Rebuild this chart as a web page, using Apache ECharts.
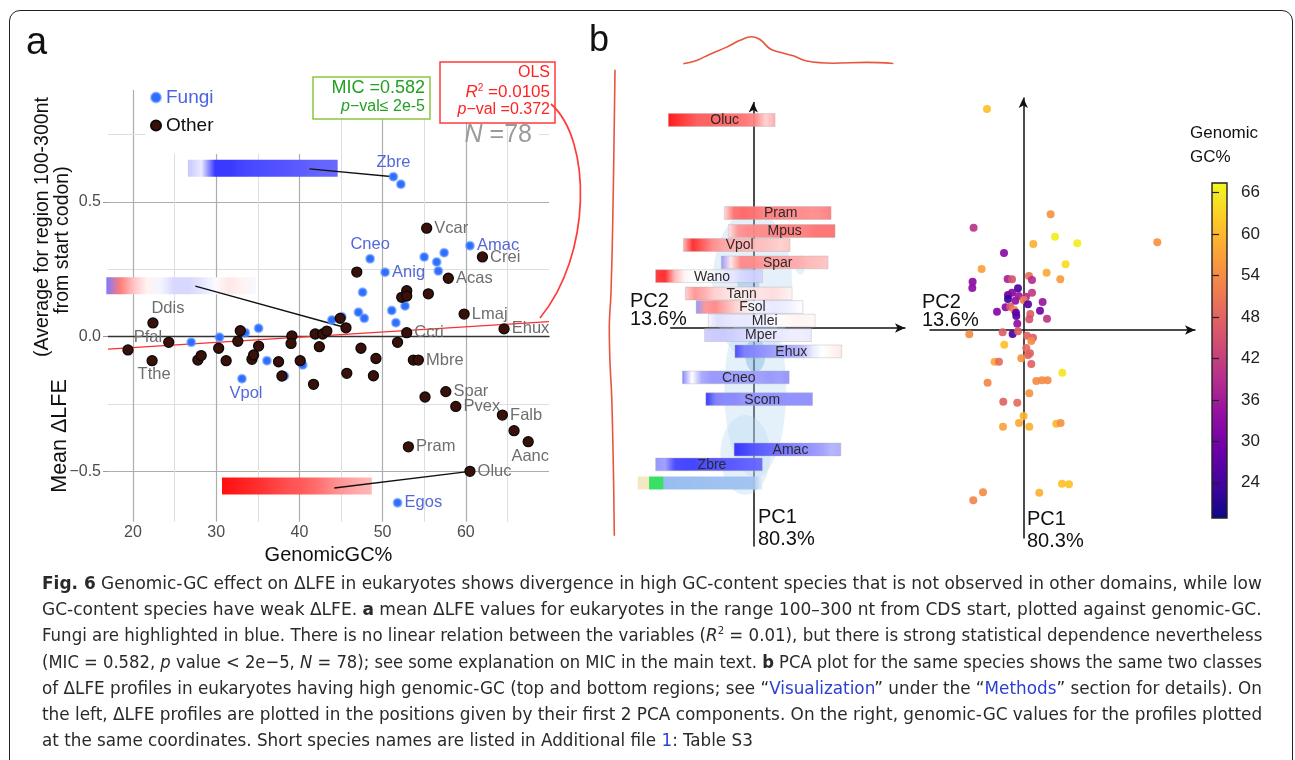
<!DOCTYPE html>
<html>
<head>
<meta charset="utf-8">
<script src="https://cdn.jsdelivr.net/npm/echarts@6/dist/echarts.min.js"></script>
<style>
html, body { margin: 0; padding: 0; background: #fff; }
#wrap { position: relative; width: 1295px; height: 760px; overflow: hidden; }
#frame { position: absolute; left: 9px; top: 10px; width: 1284px; height: 790px; border: 1.5px solid #222; border-radius: 11px; box-sizing: border-box; }
#chart { position: absolute; left: 0; top: 0; width: 1295px; height: 760px; }
#caption { position: absolute; left: 42px; top: 570px; font-family: "Liberation Sans Narrow", "DejaVu Sans Condensed", "Liberation Sans", sans-serif; font-size: 18px; line-height: 26.2px; color: #2a2a2a; }
#caption .ln { display: table; white-space: nowrap; transform-origin: 0 50%; }
#caption a { color: #2b3fd0; text-decoration: none; }
#caption sup { font-size: 11px; line-height: 0; }
</style>
</head>
<body>
<div id="wrap">
	<div id="frame"></div>
	<div id="chart"></div>
	<div id="caption">
		<div class="ln"><b>Fig. 6</b> Genomic-GC effect on ΔLFE in eukaryotes shows divergence in high GC-content species that is not observed in other domains, while low</div>
		<div class="ln">GC-content species have weak ΔLFE. <b>a</b> mean ΔLFE values for eukaryotes in the range 100–300 nt from CDS start, plotted against genomic-GC.</div>
		<div class="ln">Fungi are highlighted in blue. There is no linear relation between the variables (<i>R</i><sup>2</sup> = 0.01), but there is strong statistical dependence nevertheless</div>
		<div class="ln">(MIC = 0.582, <i>p</i> value &lt; 2e−5, <i>N</i> = 78); see some explanation on MIC in the main text. <b>b</b> PCA plot for the same species shows the same two classes</div>
		<div class="ln">of ΔLFE profiles in eukaryotes having high genomic-GC (top and bottom regions; see “<a>Visualization</a>” under the “<a>Methods</a>” section for details). On</div>
		<div class="ln">the left, ΔLFE profiles are plotted in the positions given by their first 2 PCA components. On the right, genomic-GC values for the profiles plotted</div>
		<div class="ln last">at the same coordinates. Short species names are listed in Additional file <a>1</a>: Table S3</div>
	</div>
</div>
<script>
// ---- panel a : mean dLFE (100-300 nt) against genomic GC ----
const otherNames = ['Pfal', 'Ddis', 'Tthe', '', '', '', '', '', '', '', '', '', '', '', '', '', '', '', '', '', '', '', '', '', '', '', '', '', '', '', '',
	'Ccri', '', '', '', '', 'Mbre', '', 'Vcar', '', 'Spar', 'Acas', 'Pvex', 'Lmaj', 'Pram', 'Oluc', 'Crei', 'Falb', 'Ehux', '', 'Aanc']
const otherGC = [19.4, 22.4, 22.3, 24.3, 27.8, 28.2, 30.3, 31.2, 32.6, 32.9, 34.3, 34.5, 35.1, 37.5, 37.9, 39.1, 39.0, 40.1, 41.7, 41.9, 42.4, 42.8, 43.3, 44.9, 45.6, 45.7, 46.9, 47.4, 49.2, 48.9, 51.8,
	52.9, 52.9, 52.3, 52.9, 53.7, 54.3, 55.1, 55.3, 55.5, 57.6, 57.9, 58.8, 59.8, 53.1, 60.5, 62.0, 64.4, 64.6, 65.8, 67.5]
const otherLFE = [-0.049, 0.051, -0.089, -0.021, -0.087, -0.070, -0.043, -0.089, -0.017, 0.022, -0.084, -0.068, -0.035, -0.093, -0.146, 0.003, -0.025, -0.089, -0.177, 0.010, -0.037, 0.010, 0.021, 0.068, 0.033, -0.136, 0.240, -0.043, -0.081, -0.145, -0.021,
	0.015, 0.171, 0.146, 0.151, -0.087, -0.087, -0.224, 0.403, 0.159, -0.204, 0.217, -0.259, 0.084, -0.409, -0.500, 0.296, -0.291, 0.029, -0.349, -0.390]

const fungiNames = ['', '', '', 'Vpol', '', '', '', '', '', '', '', '', '', 'Cneo', 'Anig', '', '', '', 'Zbre', '', '', '', '', '', 'Amac', 'Egos']
const fungiGC = [27.0, 30.4, 33.5, 33.1, 35.1, 36.1, 38.2, 40.4, 43.9, 45.1, 47.1, 47.8, 47.6, 48.5, 50.3, 51.1, 51.6, 52.7, 51.3, 52.2, 55.0, 56.5, 56.7, 57.4, 60.5, 51.8]
const fungiLFE = [-0.021, -0.002, 0.015, -0.156, 0.031, -0.089, -0.146, -0.105, 0.062, 0.074, 0.091, 0.068, 0.165, 0.289, 0.239, 0.097, 0.052, 0.114, 0.594, 0.566, 0.296, 0.277, 0.244, 0.312, 0.338, -0.617]

// OLS fit drawn across the panel
const olsLine = [[17, -0.046], [70, 0.056]]

const gcTicks = [20, 30, 40, 50, 60]
const gcMinor = [25, 35, 45, 55, 65]
const lfeTicks = [-0.5, 0, 0.5]
const lfeMinor = [-0.25, 0.25]

// dLFE profiles (positive = blue, negative = red) shown as inset strips
const insetProfiles = [
	[0.25, 0.1, 0.9, 0.9, 0.85, 0.82, 0.8, 0.78, 0.75, 0.72, 0.7, 0.68],
	[0.6, -0.55, -0.25, -0.05, 0.05, 0.18, 0.18, 0.12, 0.02, -0.1, -0.05, 0.03],
	[-1, -0.95, -0.9, -0.85, -0.78, -0.72, -0.68, -0.6, -0.5, -0.42, -0.35, -0.3]
]
// [gc from, gc to, lfe, line start gc, line start lfe, species gc, species lfe]
const insets = [
	[26.6, 44.6, 0.625, 41.2, 0.623, 51.3, 0.594],
	[16.8, 34.8, 0.189, 27.5, 0.188, 45.6, 0.033],
	[30.7, 48.7, -0.554, 44.2, -0.562, 60.5, -0.500]
]

// ---- panel b : PCA of profiles ----
const pcaNames = ['Oluc', 'Pram', 'Mpus', 'Vpol', 'Spar', 'Wano', 'Tann', 'Fsol', 'Mlei', 'Mper', 'Ehux', 'Cneo', 'Scom', 'Amac', 'Zbre', '']
const pcaPC2 = [-0.316, 0.244, 0.284, -0.166, 0.214, -0.443, -0.146, -0.038, 0.084, 0.047, 0.35, -0.175, 0.059, 0.342, -0.443, -0.533]
const pcaPC1 = [2.08, 1.15, 0.97, 0.83, 0.656, 0.518, 0.345, 0.21, 0.074, -0.071, -0.234, -0.494, -0.712, -1.215, -1.364, -1.55]
const pcaProfiles = [
	[-1, -0.9, -0.8, -0.7, -0.68, -0.66, -0.64, -0.62, -0.58, -0.5, -0.2, -0.35],
	[-0.15, -0.6, -0.65, -0.6, -0.55, -0.55, -0.52, -0.5, -0.5, -0.48, -0.5, -0.55],
	[-0.1, -0.45, -0.5, -0.5, -0.5, -0.55, -0.55, -0.55, -0.55, -0.6, -0.6, -0.6],
	[-0.3, -0.9, -0.7, -0.5, -0.4, -0.35, -0.32, -0.3, -0.28, -0.25, -0.2, -0.25],
	[0.5, -0.1, -0.5, -0.5, -0.45, -0.42, -0.4, -0.38, -0.35, -0.3, -0.28, -0.25],
	[-0.85, -0.9, -0.3, -0.05, 0, 0.02, 0.05, 0.1, 0.12, 0.18, 0.22, 0.2],
	[-0.2, -0.45, -0.35, -0.2, -0.15, -0.1, -0.08, -0.12, -0.12, -0.15, -0.1, -0.05],
	[0.5, -0.45, -0.5, -0.35, -0.2, -0.1, 0.05, 0.08, 0.1, 0.08, 0.05, 0],
	[0.05, 0.15, 0.12, 0.1, 0.1, 0.08, 0.05, 0.02, -0.03, -0.05, -0.05, -0.03],
	[0.22, 0.25, 0.25, 0.22, 0.18, 0.15, 0.12, 0.1, 0.1, 0.08, 0.08, 0.1],
	[0.85, 0.6, 0.55, 0.5, 0.45, 0.42, 0.38, 0.3, 0.1, 0.0, -0.05, -0.1],
	[0.6, 0.0, 0.4, 0.48, 0.48, 0.45, 0.45, 0.45, 0.45, 0.48, 0.45, 0.5],
	[0.95, 0.6, 0.55, 0.55, 0.5, 0.5, 0.5, 0.52, 0.52, 0.52, 0.52, 0.52],
	[0.95, 0.88, 0.8, 0.75, 0.7, 0.65, 0.6, 0.55, 0.5, 0.45, 0.35, 0.38],
	[0.5, 0.45, 0.85, 0.88, 0.88, 0.85, 0.82, 0.8, 0.78, 0.75, 0.72, 0.7],
	null
]
// density contours behind the strips: [pc2, pc1, spread pc2, spread pc1, level]
const contourBlobs = [
	[-0.01, 0.43, 0.8, 1.5, 0], [0.02, -0.62, 0.62, 1.75, 0], [-0.08, -1.27, 0.5, 0.8, 0],
	[0.47, 0.63, 0.1, 0.2, 0], [-0.05, 0.45, 0.22, 0.4, 1], [0.02, -0.27, 0.2, 0.35, 1]
]
// marginal densities
const pc2DensX = [-0.70, -0.566, -0.433, -0.266, -0.133, -0.016, 0.067, 0.167, 0.267, 0.40, 0.534, 0.80, 1.134, 1.40]
const pc2Dens = [0.01, 0.13, 0.36, 0.62, 0.87, 1.0, 0.90, 0.56, 0.43, 0.30, 0.11, 0.03, 0.06, 0.02]
const pc1DensY = [2.583, 2.08, 1.04, 0.35, 0.0, -0.345, -0.69, -1.38, -2.078]
const pc1Dens = [0.08, 0.19, 0.45, 0.73, 1.0, 0.89, 0.61, 0.35, 0.19]

// right: same coordinates coloured by genomic GC
const gcPC2 = [-0.363, 0.273, -0.497, 0.317, 0.54, 0.10, 1.34, -0.193, 0.423, -0.417, 0.233, 0.37, 0.057, -0.157, -0.113, 0.087, -0.507, -0.51, -0.053, 0.087,
	-0.153, -0.113, -0.153, -0.08, -0.047, 0.027, 0.003, 0.047, 0.193, -0.177, -0.13, -0.263, -0.09, -0.073, -0.07, 0.07, 0.06, 0.167, 0.237, -0.06,
	-0.54, -0.207, -0.107, -0.053, 0.037, 0.097, 0.08, -0.19, 0.03, 0.067, 0.047, -0.02, -0.287, -0.243, 0.08, 0.39, -0.357, 0.13, 0.187, 0.243,
	0.06, -0.20, -0.06, 0.003, -0.043, -0.203, 0.06, 0.33, 0.373, 0.387, 0.457, -0.403, -0.50, 0.16]
const gcPC1 = [2.21, 1.157, 1.023, 0.933, 0.867, 0.86, 0.877, 0.77, 0.657, 0.61, 0.573, 0.507, 0.54, 0.51, 0.507, 0.50, 0.483, 0.42, 0.417, 0.373,
	0.35, 0.373, 0.31, 0.293, 0.34, 0.333, 0.30, 0.257, 0.28, 0.227, 0.233, 0.183, 0.20, 0.173, 0.14, 0.16, 0.107, 0.193, 0.113, 0.063,
	-0.043, -0.023, -0.04, -0.013, -0.057, -0.077, -0.11, -0.147, -0.18, -0.233, -0.25, -0.283, -0.317, -0.317, -0.34, -0.427, -0.527, -0.51, -0.503, -0.503,
	-0.633, -0.717, -0.727, -0.86, -0.93, -0.967, -0.967, -0.937, -0.93, -1.537, -1.543, -1.623, -1.703, -1.627]
const gcGenomic = [61, 55, 40, 66, 66, 59, 55, 33, 64, 57, 58, 56, 50, 37, 45, 39, 33, 33, 25, 41,
	28, 32, 23, 34, 35, 39, 52, 26, 35, 33, 47, 32, 53, 27, 27, 47, 45, 30, 40, 34,
	54, 47, 25, 47, 48, 47, 54, 61, 49, 48, 48, 55, 58, 49, 48, 65, 53, 54, 54, 54,
	55, 48, 49, 59, 58, 57, 59, 60, 55, 61, 61, 54, 53, 59]
const colorbarTicks = [24, 30, 36, 42, 48, 54, 60, 66]

const plasma = ['#0d0887', '#41049d', '#6a00a8', '#8f0da4', '#b12a90', '#cc4778', '#e16462', '#f2844b', '#fca636', '#fcce25', '#f0f921']
const FONT = '"Liberation Sans", Arial, sans-serif'

function profileColor(v) {
	const a = Math.min(1, Math.abs(v))
	const t = v < 0 ? [255, 15, 15] : [35, 35, 255]
	const c = t.map(k => Math.round(255 + (k - 255) * a))
	return 'rgb(' + c.join(',') + ')'
}
function hGradient(stops) {
	return { type: 'linear', x: 0, y: 0, x2: 1, y2: 0, colorStops: stops }
}
function profileFill(vals) {
	return hGradient(vals.map((v, i) => ({ offset: i / (vals.length - 1), color: profileColor(v) })))
}

const labelSpots = {
	Zbre: { position: 'top', distance: 1 },
	Cneo: { position: 'top', distance: 1 },
	Ddis: { position: 'top', distance: 0, offset: [15, 0] },
	Pfal: { position: 'top', distance: 0, offset: [20, 2] },
	Tthe: { position: 'bottom', distance: 0, offset: [2, 0] },
	Vpol: { position: 'bottom', distance: 1, offset: [4, 0] },
	Aanc: { position: 'bottom', distance: 1, offset: [2, 0] }
}
function pointItems(names, xs, ys, color) {
	return xs.map((x, i) => {
		const n = names[i]
		const spot = labelSpots[n] || { position: 'right', distance: 2 }
		return {
			value: [x, ys[i]],
			name: n,
			label: Object.assign({ show: n !== '', formatter: n, color: color, fontSize: 16.5, fontFamily: FONT }, spot)
		}
	})
}

const gridLineMajor = { show: true, lineStyle: { color: '#adadad', width: 1.2 } }
const gridLineMinor = { show: true, lineStyle: { color: '#dedede', width: 1 } }
const hidden = { axisLine: { show: false }, axisTick: { show: false }, axisLabel: { show: false }, splitLine: { show: false } }
const arrowAxis = { show: true, onZero: true, symbol: ['none', 'arrow'], symbolSize: [7, 10], lineStyle: { color: '#111', width: 1.5 } }

const option = {
	animation: false,
	textStyle: { fontFamily: FONT },
	grid: [
		{ left: 108, top: 90, width: 441, height: 431.7 },
		{ left: 670.7, top: 102.6, width: 234.3, height: 443.4 },
		{ left: 930, top: 98, width: 265, height: 440 },
		{ left: 670.7, top: 30, width: 234.3, height: 34 },
		{ left: 603.1, top: 69.7, width: 12.4, height: 466.1 },
		{
			left: 1212, top: 183, width: 15, height: 335, show: true, borderColor: '#222', borderWidth: 1.4,
			backgroundColor: { type: 'linear', x: 0, y: 1, x2: 0, y2: 0, colorStops: plasma.map((c, i) => ({ offset: i / (plasma.length - 1), color: c })) }
		}
	],
	xAxis: [
		{
			gridIndex: 0, type: 'value', min: 17, max: 70,
			axisLine: { show: false },
			axisTick: { show: false, customValues: gcTicks },
			axisLabel: { customValues: gcTicks, fontSize: 16, color: '#4d4d4d', margin: 3 },
			splitLine: gridLineMajor,
			name: 'GenomicGC%', nameLocation: 'middle', nameGap: 14,
			nameTextStyle: { fontSize: 20, color: '#111' }
		},
		{
			gridIndex: 0, type: 'value', min: 17, max: 70, position: 'top',
			axisLine: { show: true, onZero: true, lineStyle: { color: '#333', width: 1.3 } },
			axisTick: { show: false, customValues: gcMinor },
			axisLabel: { show: false },
			splitLine: gridLineMinor
		},
		Object.assign({ gridIndex: 1, type: 'value', min: -0.826, max: 1.517 }, hidden, { axisLine: arrowAxis }),
		Object.assign({ gridIndex: 2, type: 'value', min: -0.933, max: 1.717 }, hidden, { axisLine: arrowAxis }),
		Object.assign({ gridIndex: 3, type: 'value', min: -0.826, max: 1.517 }, hidden),
		Object.assign({ gridIndex: 4, type: 'value', min: 0, max: 2, inverse: true }, hidden),
		Object.assign({ gridIndex: 5, type: 'value', min: 0, max: 1 }, hidden)
	],
	yAxis: [
		{
			gridIndex: 0, type: 'value', min: -0.687, max: 0.916,
			axisLine: { show: false },
			axisTick: { show: true, customValues: lfeTicks, length: 5, lineStyle: { color: '#999' } },
			axisLabel: {
				customValues: lfeTicks, fontSize: 16, color: '#4d4d4d', margin: 7,
				formatter: v => (v < 0 ? '−' : '') + Math.abs(v).toFixed(1)
			},
			splitLine: gridLineMajor
		},
		{
			gridIndex: 0, type: 'value', min: -0.687, max: 0.916, position: 'right',
			axisLine: { show: false },
			axisTick: { show: false, customValues: lfeMinor },
			axisLabel: { show: false },
			splitLine: gridLineMinor
		},
		Object.assign({ gridIndex: 1, type: 'value', min: -2.18, max: 2.254 }, hidden, { axisLine: arrowAxis }),
		Object.assign({ gridIndex: 2, type: 'value', min: -2.08, max: 2.32 }, hidden, { axisLine: arrowAxis }),
		Object.assign({ gridIndex: 3, type: 'value', min: 0, max: 1.25 }, hidden),
		Object.assign({ gridIndex: 4, type: 'value', min: -2.078, max: 2.583 }, hidden),
		{
			gridIndex: 5, type: 'value', min: 18.9, max: 67.4, position: 'right',
			axisLine: { show: false },
			axisTick: { show: true, customValues: colorbarTicks, length: 7, lineStyle: { color: '#222', width: 1.2 } },
			axisLabel: { customValues: colorbarTicks, fontSize: 17, color: '#222', margin: 14 },
			splitLine: { show: false }
		}
	],
	legend: {
		left: 146, top: 86, orient: 'vertical',
		padding: [2, 125, 19, 4], itemGap: 9, itemWidth: 10, itemHeight: 10,
		backgroundColor: '#fff', selectedMode: false,
		textStyle: { fontSize: 19 },
		data: [
			{ name: 'Fungi', icon: 'circle', textStyle: { color: '#4a63e0' } },
			{ name: 'Other', icon: 'circle', textStyle: { color: '#111' } }
		]
	},
	visualMap: {
		show: false, type: 'continuous', seriesIndex: 8, dimension: 2,
		min: 18.9, max: 67.4, inRange: { color: plasma }
	},
	series: [
		{
			type: 'custom', xAxisIndex: 0, yAxisIndex: 0, z: 3, silent: true,
			data: insets,
			renderItem: (params, api) => {
				const a = api.coord([api.value(0), api.value(2)])
				const b = api.coord([api.value(1), api.value(2)])
				const s = api.coord([api.value(3), api.value(4)])
				const t = api.coord([api.value(5), api.value(6)])
				return {
					type: 'group', children: [
						{ type: 'rect', shape: { x: a[0], y: a[1] - 8.5, width: b[0] - a[0], height: 17 }, style: { fill: profileFill(insetProfiles[params.dataIndex]) } },
						{ type: 'line', shape: { x1: s[0], y1: s[1], x2: t[0], y2: t[1] }, style: { stroke: '#111', lineWidth: 1.4 } }
					]
				}
			}
		},
		{
			type: 'line', xAxisIndex: 0, yAxisIndex: 0, z: 2, silent: true, symbol: 'none',
			data: olsLine, lineStyle: { color: '#ff2e2e', width: 1.4 },
			markLine: {
				silent: true, symbol: 'none', label: { show: false },
				lineStyle: { color: '#dedede', width: 1, type: 'solid' },
				data: [[{ coord: [17, 0.75] }, { coord: [21.5, 0.75] }], [{ coord: [68.8, 0.75] }, { coord: [70, 0.75] }]]
			}
		},
		{
			name: 'Fungi', type: 'scatter', xAxisIndex: 0, yAxisIndex: 0, z: 4, symbolSize: 8,
			itemStyle: { color: '#2f6dff', borderColor: 'rgba(100,155,255,0.6)', borderWidth: 2, opacity: 1 },
			data: pointItems(fungiNames, fungiGC, fungiLFE, '#5468d8')
		},
		{
			name: 'Other', type: 'scatter', xAxisIndex: 0, yAxisIndex: 0, z: 5, symbolSize: 10,
			itemStyle: { color: '#3a1008', borderColor: '#0a0a0a', borderWidth: 1.3, opacity: 1 },
			data: pointItems(otherNames, otherGC, otherLFE, '#6e6e6e')
		},
		{
			type: 'scatter', xAxisIndex: 2, yAxisIndex: 2, z: 1, silent: true,
			data: contourBlobs,
			symbolSize: v => [v[2] * 100, v[3] * 100],
			itemStyle: { opacity: 1, color: p => p.value[4] ? 'rgba(95,165,215,0.35)' : 'rgba(175,212,238,0.32)' }
		},
		{
			type: 'custom', xAxisIndex: 2, yAxisIndex: 2, z: 3, silent: true,
			data: pcaPC2.map((x, i) => [x, pcaPC1[i]]),
			renderItem: (params, api) => {
				const c = api.coord([api.value(0), api.value(1)])
				const i = params.dataIndex
				const prof = pcaProfiles[i]
				if (!prof) {
					const w = 124.6
					return {
						type: 'rect', shape: { x: c[0] - w / 2, y: c[1] - 6.5, width: w, height: 13 },
						style: {
							fill: hGradient([
								{ offset: 0, color: '#f3e6bd' }, { offset: 0.09, color: '#f3e6bd' },
								{ offset: 0.095, color: '#22dd55' }, { offset: 0.2, color: '#22dd55' },
								{ offset: 0.21, color: '#8cb6ee' }, { offset: 0.92, color: '#9cc0f0' }, { offset: 1, color: '#e6eefa' }
							]), opacity: 0.9
						}
					}
				}
				const w = 106.7
				return {
					type: 'group', children: [
						{ type: 'rect', shape: { x: c[0] - w / 2, y: c[1] - 6.4, width: w, height: 12.8 }, style: { fill: profileFill(prof), stroke: 'rgba(175,175,175,0.7)', lineWidth: 0.6, opacity: 0.95 } },
						{ type: 'text', style: { x: c[0] + 3, y: c[1] + 0.5, text: pcaNames[i], align: 'center', verticalAlign: 'middle', fill: '#2b2b2b', font: '14px ' + FONT } }
					]
				}
			}
		},
		{
			type: 'line', xAxisIndex: 4, yAxisIndex: 4, silent: true, symbol: 'none', smooth: 0.4,
			data: pc2DensX.map((x, i) => [x, pc2Dens[i]]), lineStyle: { color: '#e8553a', width: 1.6 }
		},
		{
			type: 'line', xAxisIndex: 5, yAxisIndex: 5, silent: true, symbol: 'none', smooth: 0.4,
			data: pc1DensY.map((y, i) => [pc1Dens[i], y]), lineStyle: { color: '#e8553a', width: 1.6 }
		},
		{
			type: 'scatter', xAxisIndex: 3, yAxisIndex: 3, z: 4, symbolSize: 8, silent: true,
			itemStyle: { opacity: 0.92 },
			data: gcPC2.map((x, i) => [x, gcPC1[i], gcGenomic[i]])
		}
	],
	graphic: { elements: [
		{ type: 'text', x: 26, y: 44, z: 100, style: { text: 'a', fontSize: 38, fill: '#111', verticalAlign: 'middle', fontFamily: FONT } },
		{ type: 'text', x: 589, y: 41, z: 100, style: { text: 'b', fontSize: 36, fill: '#111', verticalAlign: 'middle', fontFamily: FONT } },
		{ type: 'text', x: 43, y: 227, rotation: Math.PI / 2, z: 100, style: { text: '(Average for region 100-300nt', fontSize: 19.5, fill: '#111', align: 'center', verticalAlign: 'middle', fontFamily: FONT } },
		{ type: 'text', x: 63, y: 240, rotation: Math.PI / 2, z: 100, style: { text: 'from start codon)', fontSize: 19.5, fill: '#111', align: 'center', verticalAlign: 'middle', fontFamily: FONT } },
		{ type: 'text', x: 60, y: 436, rotation: Math.PI / 2, z: 100, style: { text: 'Mean ΔLFE', fontSize: 21.5, fill: '#111', align: 'center', verticalAlign: 'middle', fontFamily: FONT } },
		{ type: 'rect', z: 100, shape: { x: 313, y: 77, width: 117, height: 42 }, style: { fill: '#fff', stroke: '#8cc63e', lineWidth: 1.5 } },
		{ type: 'text', x: 425, y: 88, z: 101, style: { text: 'MIC =0.582', fontSize: 18, fill: '#22a022', align: 'right', verticalAlign: 'middle', fontFamily: FONT } },
		{ type: 'text', x: 425, y: 107, z: 101, style: { text: '{i|p}−val≤ 2e-5', fontSize: 16, fill: '#22a022', align: 'right', verticalAlign: 'middle', fontFamily: FONT, rich: { i: { fontStyle: 'italic', fontSize: 16, fill: '#22a022', fontFamily: FONT } } } },
		{ type: 'rect', z: 100, shape: { x: 440, y: 62, width: 115, height: 61 }, style: { fill: '#fff', stroke: '#ff3b3b', lineWidth: 1.5 } },
		{ type: 'text', x: 550, y: 73, z: 101, style: { text: 'OLS', fontSize: 16, fill: '#ff2424', align: 'right', verticalAlign: 'middle', fontFamily: FONT } },
		{ type: 'text', x: 550, y: 92, z: 101, style: { text: '{i|R}{s|2} =0.0105', fontSize: 17, fill: '#ff2424', align: 'right', verticalAlign: 'middle', fontFamily: FONT, rich: { i: { fontStyle: 'italic', fontSize: 17, fill: '#ff2424' }, s: { fontSize: 10, fill: '#ff2424', verticalAlign: 'top', padding: [0, 0, 8, 0] } } } },
		{ type: 'text', x: 550, y: 110, z: 101, style: { text: '{i|p}−val =0.372', fontSize: 16, fill: '#ff2424', align: 'right', verticalAlign: 'middle', fontFamily: FONT, rich: { i: { fontStyle: 'italic', fontSize: 16, fill: '#ff2424' } } } },
		{ type: 'text', x: 532, y: 135, z: 101, style: { text: '{i|N} =78', fontSize: 25, fill: '#9a9a9a', align: 'right', verticalAlign: 'middle', fontFamily: FONT, rich: { i: { fontStyle: 'italic', fontSize: 25, fill: '#9a9a9a' } } } },
		{ type: 'bezierCurve', z: 100, shape: { x1: 551, y1: 104, cpx1: 592, cpy1: 140, cpx2: 592, cpy2: 255, x2: 540, y2: 318 }, style: { fill: null, stroke: '#ff3b3b', lineWidth: 1.7 } },
		{ type: 'text', x: 630, y: 310, z: 100, style: { text: 'PC2\n13.6%', fontSize: 20, lineHeight: 18, fill: '#111', verticalAlign: 'middle', fontFamily: FONT } },
		{ type: 'text', x: 922, y: 311, z: 100, style: { text: 'PC2\n13.6%', fontSize: 20, lineHeight: 18, fill: '#111', verticalAlign: 'middle', fontFamily: FONT } },
		{ type: 'text', x: 758, y: 528, z: 100, style: { text: 'PC1\n80.3%', fontSize: 20, lineHeight: 22, fill: '#111', verticalAlign: 'middle', fontFamily: FONT } },
		{ type: 'text', x: 1027, y: 530, z: 100, style: { text: 'PC1\n80.3%', fontSize: 20, lineHeight: 22, fill: '#111', verticalAlign: 'middle', fontFamily: FONT } },
		{ type: 'text', x: 1190, y: 145, z: 100, style: { text: 'Genomic\nGC%', fontSize: 17, lineHeight: 24, fill: '#111', verticalAlign: 'middle', fontFamily: FONT } }
	] }
}

// squeeze each caption line to the justified width of the reference
function fitCaption() {
	const lines = Array.from(document.querySelectorAll('#caption .ln'))
	const scales = []
	lines.forEach(l => {
		l.style.transform = 'none'
		if (!l.classList.contains('last')) {
			const s = 1220 / l.offsetWidth
			scales.push(s)
			l.style.transform = 'scaleX(' + s + ')'
		}
	})
	const avg = scales.reduce((a, b) => a + b, 0) / scales.length
	lines.filter(l => l.classList.contains('last')).forEach(l => { l.style.transform = 'scaleX(' + avg + ')' })
}
fitCaption()
if (document.fonts) document.fonts.ready.then(fitCaption)

const chart = echarts.init(document.getElementById('chart'))
chart.setOption(option)
</script>
</body>
</html>
